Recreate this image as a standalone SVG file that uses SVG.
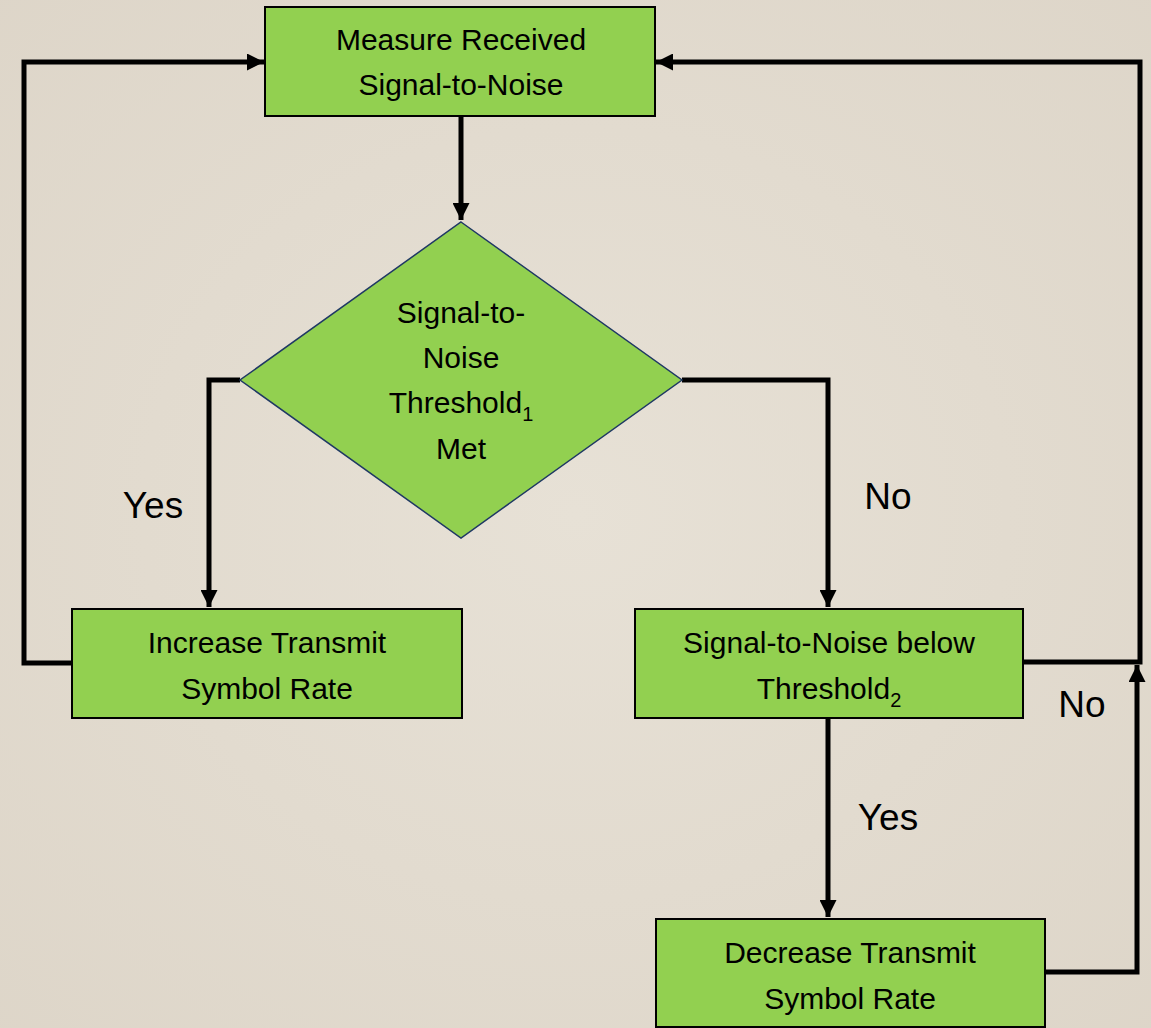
<svg xmlns="http://www.w3.org/2000/svg" width="1151" height="1028" viewBox="0 0 1151 1028">
<defs>
<marker id="ah" viewBox="0 0 10 10" refX="10" refY="5" markerWidth="3.4" markerHeight="3.4" markerUnits="strokeWidth" orient="auto">
<path d="M0,0 L10,5 L0,10 z" fill="#000"/>
</marker>
<radialGradient id="bg" cx="50%" cy="50%" r="75%">
<stop offset="0" stop-color="#e7e1d6"/>
<stop offset="1" stop-color="#ddd5c8"/>
</radialGradient>
</defs>
<style>
.box{fill:#92d050;stroke:#000;stroke-width:2}
.dia{fill:#92d050;stroke:#1f3864;stroke-width:1.5}
.t{font-family:"Liberation Sans",Arial,sans-serif;font-size:30px;fill:#000;text-anchor:middle}
.lbl{font-family:"Liberation Sans",Arial,sans-serif;font-size:37px;fill:#000;text-anchor:middle}
.c{fill:none;stroke:#000;stroke-width:5}
</style>
<rect width="1151" height="1028" fill="url(#bg)"/>
<g id="connectors">
<path class="c" d="M461,116 V220" marker-end="url(#ah)"/>
<path class="c" d="M72,663 H24 V62 H264" marker-end="url(#ah)"/>
<path class="c" d="M1023,662 H1140 V62 H656" marker-end="url(#ah)"/>
<path class="c" d="M240,380 H209 V607" marker-end="url(#ah)"/>
<path class="c" d="M682,380 H828 V607" marker-end="url(#ah)"/>
<path class="c" d="M828,719 V917" marker-end="url(#ah)"/>
<path class="c" d="M1045,972 H1137 V665" marker-end="url(#ah)"/>
</g>
<g id="labels">
<text class="lbl" x="153" y="518">Yes</text>
<text class="lbl" x="888" y="509">No</text>
<text class="lbl" x="1082" y="717">No</text>
<text class="lbl" x="888" y="830">Yes</text>
</g>
<g id="measure">
<rect class="box" x="265" y="7" width="390" height="109"/>
<text class="t" x="461" y="50">Measure Received</text>
<text class="t" x="461" y="95">Signal-to-Noise</text>
</g>
<g id="decision">
<polygon class="dia" points="461,222 682,380 461,538 240,380"/>
<text class="t" x="461" y="323">Signal-to-</text>
<text class="t" x="461" y="368">Noise</text>
<text class="t" x="461" y="413">Threshold<tspan font-size="20" dy="8">1</tspan></text>
<text class="t" x="461" y="459">Met</text>
</g>
<g id="increase">
<rect class="box" x="72" y="609" width="390" height="109"/>
<text class="t" x="267" y="653">Increase Transmit</text>
<text class="t" x="267" y="699">Symbol Rate</text>
</g>
<g id="below">
<rect class="box" x="635" y="609" width="388" height="109"/>
<text class="t" x="829" y="653">Signal-to-Noise below</text>
<text class="t" x="829" y="699">Threshold<tspan font-size="20" dy="8">2</tspan></text>
</g>
<g id="decrease">
<rect class="box" x="656" y="919" width="389" height="108"/>
<text class="t" x="850" y="963">Decrease Transmit</text>
<text class="t" x="850" y="1009">Symbol Rate</text>
</g>
</svg>
